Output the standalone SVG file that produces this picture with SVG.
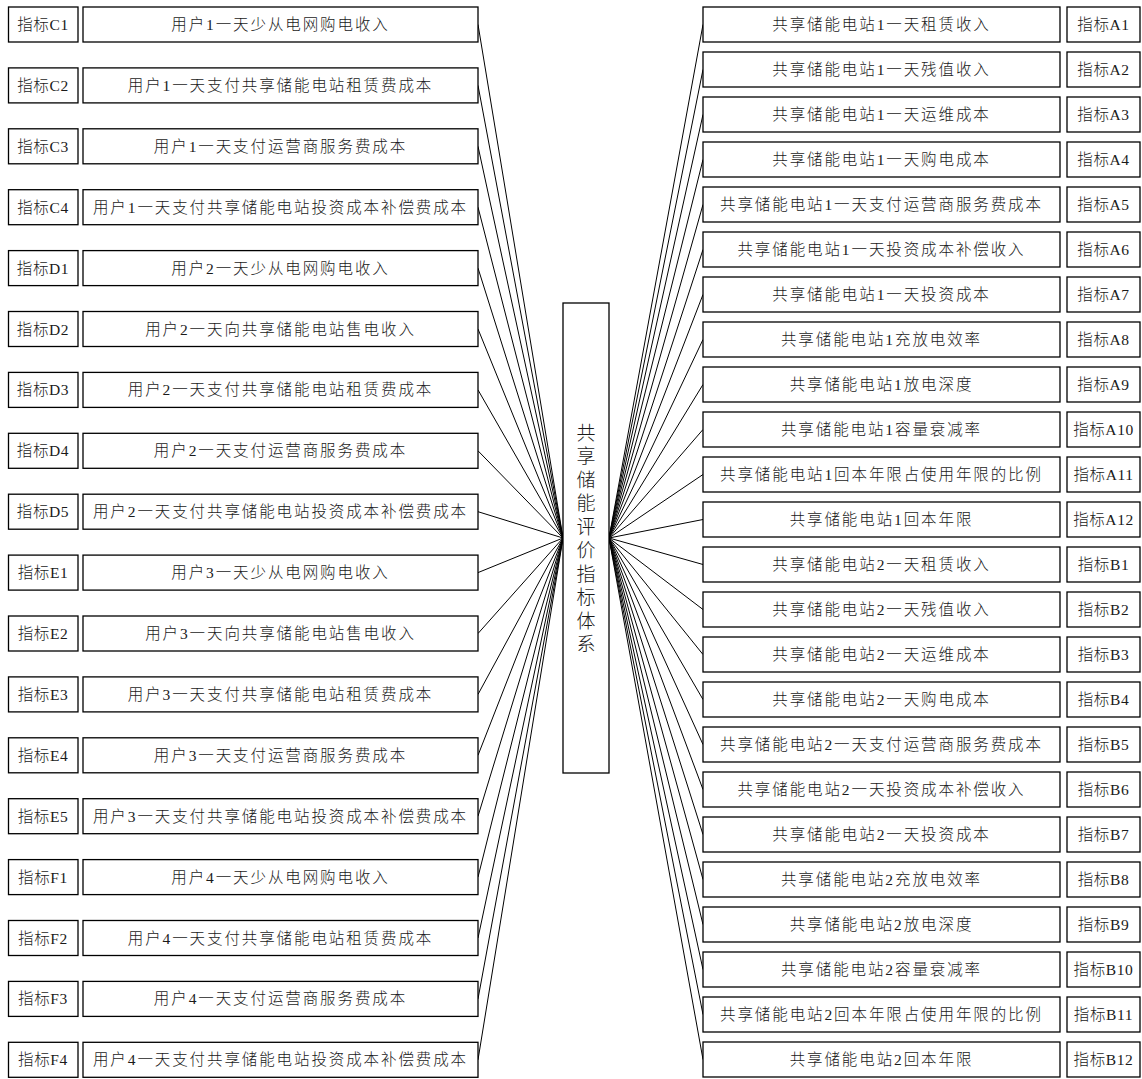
<svg xmlns="http://www.w3.org/2000/svg" width="1142" height="1079" viewBox="0 0 1142 1079">
<style>
rect{fill:#fff;stroke:#000;stroke-width:1.3}
text{font-family:"Liberation Serif","Noto Sans CJK SC",serif;font-size:15.5px;font-weight:300;fill:#1a1a1a;text-anchor:middle;dominant-baseline:central;letter-spacing:1.9px}
.s{letter-spacing:0.6px}
.c{font-size:19px;letter-spacing:0}
#connectors line{stroke:#000;stroke-width:1}
</style>
<rect x="0" y="0" width="1142" height="1079" style="stroke:none;fill:#fff"/>
<g id="connectors">
<line x1="478" y1="24.5" x2="563" y2="538"/>
<line x1="478" y1="85.4" x2="563" y2="538"/>
<line x1="478" y1="146.3" x2="563" y2="538"/>
<line x1="478" y1="207.2" x2="563" y2="538"/>
<line x1="478" y1="268.1" x2="563" y2="538"/>
<line x1="478" y1="329" x2="563" y2="538"/>
<line x1="478" y1="389.9" x2="563" y2="538"/>
<line x1="478" y1="450.8" x2="563" y2="538"/>
<line x1="478" y1="511.7" x2="563" y2="538"/>
<line x1="478" y1="572.6" x2="563" y2="538"/>
<line x1="478" y1="633.5" x2="563" y2="538"/>
<line x1="478" y1="694.4" x2="563" y2="538"/>
<line x1="478" y1="755.3" x2="563" y2="538"/>
<line x1="478" y1="816.2" x2="563" y2="538"/>
<line x1="478" y1="877.1" x2="563" y2="538"/>
<line x1="478" y1="938" x2="563" y2="538"/>
<line x1="478" y1="998.9" x2="563" y2="538"/>
<line x1="478" y1="1059.8" x2="563" y2="538"/>
<line x1="609" y1="538" x2="703" y2="24.5"/>
<line x1="609" y1="538" x2="703" y2="69.5"/>
<line x1="609" y1="538" x2="703" y2="114.5"/>
<line x1="609" y1="538" x2="703" y2="159.5"/>
<line x1="609" y1="538" x2="703" y2="204.5"/>
<line x1="609" y1="538" x2="703" y2="249.5"/>
<line x1="609" y1="538" x2="703" y2="294.5"/>
<line x1="609" y1="538" x2="703" y2="339.5"/>
<line x1="609" y1="538" x2="703" y2="384.5"/>
<line x1="609" y1="538" x2="703" y2="429.5"/>
<line x1="609" y1="538" x2="703" y2="474.5"/>
<line x1="609" y1="538" x2="703" y2="519.5"/>
<line x1="609" y1="538" x2="703" y2="564.5"/>
<line x1="609" y1="538" x2="703" y2="609.5"/>
<line x1="609" y1="538" x2="703" y2="654.5"/>
<line x1="609" y1="538" x2="703" y2="699.5"/>
<line x1="609" y1="538" x2="703" y2="744.5"/>
<line x1="609" y1="538" x2="703" y2="789.5"/>
<line x1="609" y1="538" x2="703" y2="834.5"/>
<line x1="609" y1="538" x2="703" y2="879.5"/>
<line x1="609" y1="538" x2="703" y2="924.5"/>
<line x1="609" y1="538" x2="703" y2="969.5"/>
<line x1="609" y1="538" x2="703" y2="1014.5"/>
<line x1="609" y1="538" x2="703" y2="1059.5"/>
</g>
<g id="center">
<rect x="563" y="303" width="46" height="470"/>
<text class="c" x="586" y="433">共</text>
<text class="c" x="586" y="456.5">享</text>
<text class="c" x="586" y="480">储</text>
<text class="c" x="586" y="503.5">能</text>
<text class="c" x="586" y="527">评</text>
<text class="c" x="586" y="550.5">价</text>
<text class="c" x="586" y="574">指</text>
<text class="c" x="586" y="597.5">标</text>
<text class="c" x="586" y="621">体</text>
<text class="c" x="586" y="644.5">系</text>
</g>
<g id="C1" transform="translate(0,7)"><rect x="8.5" y="0" width="69.5" height="35"/><text class="s" x="43" y="17.5">指标C1</text><rect x="83" y="0" width="395" height="35"/><text x="280.5" y="17.5">用户1一天少从电网购电收入</text></g>
<g id="C2" transform="translate(0,67.9)"><rect x="8.5" y="0" width="69.5" height="35"/><text class="s" x="43" y="17.5">指标C2</text><rect x="83" y="0" width="395" height="35"/><text x="280.5" y="17.5">用户1一天支付共享储能电站租赁费成本</text></g>
<g id="C3" transform="translate(0,128.8)"><rect x="8.5" y="0" width="69.5" height="35"/><text class="s" x="43" y="17.5">指标C3</text><rect x="83" y="0" width="395" height="35"/><text x="280.5" y="17.5">用户1一天支付运营商服务费成本</text></g>
<g id="C4" transform="translate(0,189.7)"><rect x="8.5" y="0" width="69.5" height="35"/><text class="s" x="43" y="17.5">指标C4</text><rect x="83" y="0" width="395" height="35"/><text x="280.5" y="17.5">用户1一天支付共享储能电站投资成本补偿费成本</text></g>
<g id="D1" transform="translate(0,250.6)"><rect x="8.5" y="0" width="69.5" height="35"/><text class="s" x="43" y="17.5">指标D1</text><rect x="83" y="0" width="395" height="35"/><text x="280.5" y="17.5">用户2一天少从电网购电收入</text></g>
<g id="D2" transform="translate(0,311.5)"><rect x="8.5" y="0" width="69.5" height="35"/><text class="s" x="43" y="17.5">指标D2</text><rect x="83" y="0" width="395" height="35"/><text x="280.5" y="17.5">用户2一天向共享储能电站售电收入</text></g>
<g id="D3" transform="translate(0,372.4)"><rect x="8.5" y="0" width="69.5" height="35"/><text class="s" x="43" y="17.5">指标D3</text><rect x="83" y="0" width="395" height="35"/><text x="280.5" y="17.5">用户2一天支付共享储能电站租赁费成本</text></g>
<g id="D4" transform="translate(0,433.3)"><rect x="8.5" y="0" width="69.5" height="35"/><text class="s" x="43" y="17.5">指标D4</text><rect x="83" y="0" width="395" height="35"/><text x="280.5" y="17.5">用户2一天支付运营商服务费成本</text></g>
<g id="D5" transform="translate(0,494.2)"><rect x="8.5" y="0" width="69.5" height="35"/><text class="s" x="43" y="17.5">指标D5</text><rect x="83" y="0" width="395" height="35"/><text x="280.5" y="17.5">用户2一天支付共享储能电站投资成本补偿费成本</text></g>
<g id="E1" transform="translate(0,555.1)"><rect x="8.5" y="0" width="69.5" height="35"/><text class="s" x="43" y="17.5">指标E1</text><rect x="83" y="0" width="395" height="35"/><text x="280.5" y="17.5">用户3一天少从电网购电收入</text></g>
<g id="E2" transform="translate(0,616)"><rect x="8.5" y="0" width="69.5" height="35"/><text class="s" x="43" y="17.5">指标E2</text><rect x="83" y="0" width="395" height="35"/><text x="280.5" y="17.5">用户3一天向共享储能电站售电收入</text></g>
<g id="E3" transform="translate(0,676.9)"><rect x="8.5" y="0" width="69.5" height="35"/><text class="s" x="43" y="17.5">指标E3</text><rect x="83" y="0" width="395" height="35"/><text x="280.5" y="17.5">用户3一天支付共享储能电站租赁费成本</text></g>
<g id="E4" transform="translate(0,737.8)"><rect x="8.5" y="0" width="69.5" height="35"/><text class="s" x="43" y="17.5">指标E4</text><rect x="83" y="0" width="395" height="35"/><text x="280.5" y="17.5">用户3一天支付运营商服务费成本</text></g>
<g id="E5" transform="translate(0,798.7)"><rect x="8.5" y="0" width="69.5" height="35"/><text class="s" x="43" y="17.5">指标E5</text><rect x="83" y="0" width="395" height="35"/><text x="280.5" y="17.5">用户3一天支付共享储能电站投资成本补偿费成本</text></g>
<g id="F1" transform="translate(0,859.6)"><rect x="8.5" y="0" width="69.5" height="35"/><text class="s" x="43" y="17.5">指标F1</text><rect x="83" y="0" width="395" height="35"/><text x="280.5" y="17.5">用户4一天少从电网购电收入</text></g>
<g id="F2" transform="translate(0,920.5)"><rect x="8.5" y="0" width="69.5" height="35"/><text class="s" x="43" y="17.5">指标F2</text><rect x="83" y="0" width="395" height="35"/><text x="280.5" y="17.5">用户4一天支付共享储能电站租赁费成本</text></g>
<g id="F3" transform="translate(0,981.4)"><rect x="8.5" y="0" width="69.5" height="35"/><text class="s" x="43" y="17.5">指标F3</text><rect x="83" y="0" width="395" height="35"/><text x="280.5" y="17.5">用户4一天支付运营商服务费成本</text></g>
<g id="F4" transform="translate(0,1042.3)"><rect x="8.5" y="0" width="69.5" height="35"/><text class="s" x="43" y="17.5">指标F4</text><rect x="83" y="0" width="395" height="35"/><text x="280.5" y="17.5">用户4一天支付共享储能电站投资成本补偿费成本</text></g>
<g id="A1" transform="translate(0,7)"><rect x="703" y="0" width="357" height="35"/><text x="881.5" y="17.5">共享储能电站1一天租赁收入</text><rect x="1067" y="0" width="73" height="35"/><text class="s" x="1103.5" y="17.5">指标A1</text></g>
<g id="A2" transform="translate(0,52)"><rect x="703" y="0" width="357" height="35"/><text x="881.5" y="17.5">共享储能电站1一天残值收入</text><rect x="1067" y="0" width="73" height="35"/><text class="s" x="1103.5" y="17.5">指标A2</text></g>
<g id="A3" transform="translate(0,97)"><rect x="703" y="0" width="357" height="35"/><text x="881.5" y="17.5">共享储能电站1一天运维成本</text><rect x="1067" y="0" width="73" height="35"/><text class="s" x="1103.5" y="17.5">指标A3</text></g>
<g id="A4" transform="translate(0,142)"><rect x="703" y="0" width="357" height="35"/><text x="881.5" y="17.5">共享储能电站1一天购电成本</text><rect x="1067" y="0" width="73" height="35"/><text class="s" x="1103.5" y="17.5">指标A4</text></g>
<g id="A5" transform="translate(0,187)"><rect x="703" y="0" width="357" height="35"/><text x="881.5" y="17.5">共享储能电站1一天支付运营商服务费成本</text><rect x="1067" y="0" width="73" height="35"/><text class="s" x="1103.5" y="17.5">指标A5</text></g>
<g id="A6" transform="translate(0,232)"><rect x="703" y="0" width="357" height="35"/><text x="881.5" y="17.5">共享储能电站1一天投资成本补偿收入</text><rect x="1067" y="0" width="73" height="35"/><text class="s" x="1103.5" y="17.5">指标A6</text></g>
<g id="A7" transform="translate(0,277)"><rect x="703" y="0" width="357" height="35"/><text x="881.5" y="17.5">共享储能电站1一天投资成本</text><rect x="1067" y="0" width="73" height="35"/><text class="s" x="1103.5" y="17.5">指标A7</text></g>
<g id="A8" transform="translate(0,322)"><rect x="703" y="0" width="357" height="35"/><text x="881.5" y="17.5">共享储能电站1充放电效率</text><rect x="1067" y="0" width="73" height="35"/><text class="s" x="1103.5" y="17.5">指标A8</text></g>
<g id="A9" transform="translate(0,367)"><rect x="703" y="0" width="357" height="35"/><text x="881.5" y="17.5">共享储能电站1放电深度</text><rect x="1067" y="0" width="73" height="35"/><text class="s" x="1103.5" y="17.5">指标A9</text></g>
<g id="A10" transform="translate(0,412)"><rect x="703" y="0" width="357" height="35"/><text x="881.5" y="17.5">共享储能电站1容量衰减率</text><rect x="1067" y="0" width="73" height="35"/><text class="s" x="1103.5" y="17.5">指标A10</text></g>
<g id="A11" transform="translate(0,457)"><rect x="703" y="0" width="357" height="35"/><text x="881.5" y="17.5">共享储能电站1回本年限占使用年限的比例</text><rect x="1067" y="0" width="73" height="35"/><text class="s" x="1103.5" y="17.5">指标A11</text></g>
<g id="A12" transform="translate(0,502)"><rect x="703" y="0" width="357" height="35"/><text x="881.5" y="17.5">共享储能电站1回本年限</text><rect x="1067" y="0" width="73" height="35"/><text class="s" x="1103.5" y="17.5">指标A12</text></g>
<g id="B1" transform="translate(0,547)"><rect x="703" y="0" width="357" height="35"/><text x="881.5" y="17.5">共享储能电站2一天租赁收入</text><rect x="1067" y="0" width="73" height="35"/><text class="s" x="1103.5" y="17.5">指标B1</text></g>
<g id="B2" transform="translate(0,592)"><rect x="703" y="0" width="357" height="35"/><text x="881.5" y="17.5">共享储能电站2一天残值收入</text><rect x="1067" y="0" width="73" height="35"/><text class="s" x="1103.5" y="17.5">指标B2</text></g>
<g id="B3" transform="translate(0,637)"><rect x="703" y="0" width="357" height="35"/><text x="881.5" y="17.5">共享储能电站2一天运维成本</text><rect x="1067" y="0" width="73" height="35"/><text class="s" x="1103.5" y="17.5">指标B3</text></g>
<g id="B4" transform="translate(0,682)"><rect x="703" y="0" width="357" height="35"/><text x="881.5" y="17.5">共享储能电站2一天购电成本</text><rect x="1067" y="0" width="73" height="35"/><text class="s" x="1103.5" y="17.5">指标B4</text></g>
<g id="B5" transform="translate(0,727)"><rect x="703" y="0" width="357" height="35"/><text x="881.5" y="17.5">共享储能电站2一天支付运营商服务费成本</text><rect x="1067" y="0" width="73" height="35"/><text class="s" x="1103.5" y="17.5">指标B5</text></g>
<g id="B6" transform="translate(0,772)"><rect x="703" y="0" width="357" height="35"/><text x="881.5" y="17.5">共享储能电站2一天投资成本补偿收入</text><rect x="1067" y="0" width="73" height="35"/><text class="s" x="1103.5" y="17.5">指标B6</text></g>
<g id="B7" transform="translate(0,817)"><rect x="703" y="0" width="357" height="35"/><text x="881.5" y="17.5">共享储能电站2一天投资成本</text><rect x="1067" y="0" width="73" height="35"/><text class="s" x="1103.5" y="17.5">指标B7</text></g>
<g id="B8" transform="translate(0,862)"><rect x="703" y="0" width="357" height="35"/><text x="881.5" y="17.5">共享储能电站2充放电效率</text><rect x="1067" y="0" width="73" height="35"/><text class="s" x="1103.5" y="17.5">指标B8</text></g>
<g id="B9" transform="translate(0,907)"><rect x="703" y="0" width="357" height="35"/><text x="881.5" y="17.5">共享储能电站2放电深度</text><rect x="1067" y="0" width="73" height="35"/><text class="s" x="1103.5" y="17.5">指标B9</text></g>
<g id="B10" transform="translate(0,952)"><rect x="703" y="0" width="357" height="35"/><text x="881.5" y="17.5">共享储能电站2容量衰减率</text><rect x="1067" y="0" width="73" height="35"/><text class="s" x="1103.5" y="17.5">指标B10</text></g>
<g id="B11" transform="translate(0,997)"><rect x="703" y="0" width="357" height="35"/><text x="881.5" y="17.5">共享储能电站2回本年限占使用年限的比例</text><rect x="1067" y="0" width="73" height="35"/><text class="s" x="1103.5" y="17.5">指标B11</text></g>
<g id="B12" transform="translate(0,1042)"><rect x="703" y="0" width="357" height="35"/><text x="881.5" y="17.5">共享储能电站2回本年限</text><rect x="1067" y="0" width="73" height="35"/><text class="s" x="1103.5" y="17.5">指标B12</text></g>
</svg>
